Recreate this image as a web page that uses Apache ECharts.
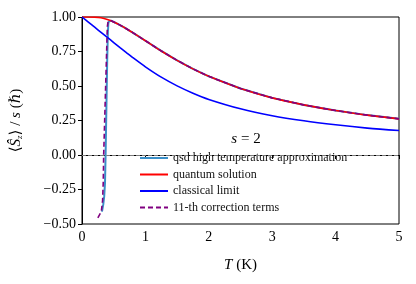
<!DOCTYPE html>
<html><head><meta charset="utf-8">
<script src="https://cdn.jsdelivr.net/npm/echarts@6/dist/echarts.min.js"></script>
<style>html,body{margin:0;padding:0;background:#fff}#c{width:416px;height:284px}</style>
</head><body><div id="c"></div>
<script>
// Temperature grid (K) for the smooth curves
var tGrid = [0, 0.1, 0.2, 0.3, 0.4, 0.5, 0.6, 0.7, 0.8, 1, 1.25, 1.5, 1.75, 2, 2.5, 3, 3.5, 4, 4.5, 5];
var quantum = [1, 1.0, 0.999, 0.994, 0.982, 0.964, 0.941, 0.915, 0.887, 0.828, 0.754, 0.686, 0.624, 0.570, 0.482, 0.414, 0.363, 0.322, 0.289, 0.262];
var classical = [1, 0.963, 0.926, 0.889, 0.852, 0.815, 0.778, 0.742, 0.706, 0.639, 0.564, 0.501, 0.448, 0.403, 0.335, 0.285, 0.248, 0.219, 0.195, 0.177];
// qsd high temperature approximation
var tQsd = [0.315, 0.335, 0.35, 0.363, 0.372, 0.385, 0.398, 0.408, 0.415, 0.425, 0.44, 0.46, 0.5, 0.6, 0.7, 0.8, 1, 1.25, 1.5, 1.75, 2, 2.5, 3, 3.5, 4, 4.5, 5];
var qsd = [-0.41, -0.36, -0.30, -0.20, 0.0, 0.35, 0.70, 0.88, 0.95, 0.97, 0.975, 0.973, 0.964, 0.941, 0.915, 0.887, 0.828, 0.754, 0.686, 0.624, 0.570, 0.482, 0.414, 0.363, 0.322, 0.289, 0.262];
// 11-th correction terms
var tCorr = [0.25, 0.305, 0.325, 0.335, 0.342, 0.36, 0.38, 0.394, 0.40, 0.41, 0.43, 0.46, 0.5, 0.6, 0.7, 0.8, 1, 1.25, 1.5, 1.75, 2, 2.5, 3, 3.5, 4, 4.5, 5];
var corr = [-0.455, -0.41, -0.33, -0.20, 0.0, 0.29, 0.61, 0.84, 0.93, 0.965, 0.974, 0.973, 0.964, 0.941, 0.915, 0.887, 0.828, 0.754, 0.686, 0.624, 0.570, 0.482, 0.414, 0.363, 0.322, 0.289, 0.262];
var xTicks = [0, 1, 2, 3, 4, 5];
var yTicks = [-0.5, -0.25, 0, 0.25, 0.5, 0.75, 1];

function zip(a, b) { return a.map(function (v, i) { return [v, b[i]]; }); }
var FONT = '"Liberation Serif", "DejaVu Serif", serif';
var chart = echarts.init(document.getElementById('c'), null, {renderer: 'canvas'});
chart.setOption({
  animation: false,
  backgroundColor: '#fff',
  textStyle: {fontFamily: FONT},
  grid: {left: 82, right: 17, top: 17, bottom: 60, show: true, borderColor: '#000', borderWidth: 1},
  title: {
    text: '{i|s} = 2', left: 241, top: 127, textAlign: 'center',
    textStyle: {fontFamily: FONT, fontSize: 15, fontWeight: 'normal', color: '#000',
      rich: {i: {fontFamily: FONT, fontStyle: 'italic', fontSize: 15, color: '#000'}}}
  },
  legend: {
    orient: 'vertical', left: 134, top: 147, itemWidth: 28, itemHeight: 12, itemGap: 4.5,
    itemStyle: {opacity: 0},
    textStyle: {fontFamily: FONT, fontSize: 12, color: '#111'},
    data: ['qsd high temperature approximation', 'quantum solution', 'classical limit', '11-th correction terms']
  },
  xAxis: {
    type: 'value', min: 0, max: 5, interval: 1,
    name: '{i|T} (K)', nameLocation: 'middle', nameGap: 34,
    nameTextStyle: {fontFamily: FONT, fontSize: 15, color: '#000', rich: {i: {fontFamily: FONT, fontStyle: 'italic', fontSize: 15, color: '#000'}}},
    axisLine: {lineStyle: {color: '#000'}},
    axisTick: {length: 4, lineStyle: {color: '#000'}},
    axisLabel: {fontFamily: FONT, fontSize: 14, color: '#000', margin: 6,
      formatter: function (v) { return xTicks.indexOf(v) >= 0 ? String(v) : ''; }},
    splitLine: {show: false}
  },
  yAxis: {
    type: 'value', min: -0.5, max: 1, interval: 0.25,
    name: '⟨{i|Ŝ}{s|z}⟩ / {i|s} (ℏ)', nameLocation: 'middle', nameGap: 58, nameRotate: 90,
    nameTextStyle: {fontFamily: FONT, fontSize: 15, color: '#000',
      rich: {i: {fontFamily: FONT, fontStyle: 'italic', fontSize: 15, color: '#000'},
             s: {fontFamily: FONT, fontStyle: 'italic', fontSize: 9, color: '#000', verticalAlign: 'bottom', padding: [7, 0, 0, 0]}}},
    axisLine: {show: true, lineStyle: {color: '#000'}},
    axisTick: {length: 4, lineStyle: {color: '#000'}},
    axisLabel: {fontFamily: FONT, fontSize: 14, color: '#000', margin: 6,
      formatter: function (v) { return (v < 0 ? '\u2212' : '') + Math.abs(v).toFixed(2); }},
    splitLine: {show: false}
  },
  series: [
    {name: 'qsd high temperature approximation', type: 'line', data: zip(tQsd, qsd), symbol: 'none',
      lineStyle: {color: '#3a8fc8', width: 2}, itemStyle: {color: '#3a8fc8'}, z: 2,
      markLine: {silent: true, symbol: 'none', label: {show: false},
        lineStyle: {color: '#999', type: [4, 2], width: 0.8}, data: [{yAxis: 0}]}},
    {name: 'quantum solution', type: 'line', data: zip(tGrid, quantum), symbol: 'none', smooth: 0.3,
      lineStyle: {color: '#ff0000', width: 1.6}, itemStyle: {color: '#ff0000'}, z: 3},
    {name: 'classical limit', type: 'line', data: zip(tGrid, classical), symbol: 'none', smooth: 0.3,
      lineStyle: {color: '#0000ff', width: 1.6}, itemStyle: {color: '#0000ff'}, z: 4},
    {name: '11-th correction terms', type: 'line', data: zip(tCorr, corr), symbol: 'none',
      lineStyle: {color: '#800080', width: 1.6, type: [5, 3]}, itemStyle: {color: '#800080'}, z: 5}
  ]
});
</script></body></html>
